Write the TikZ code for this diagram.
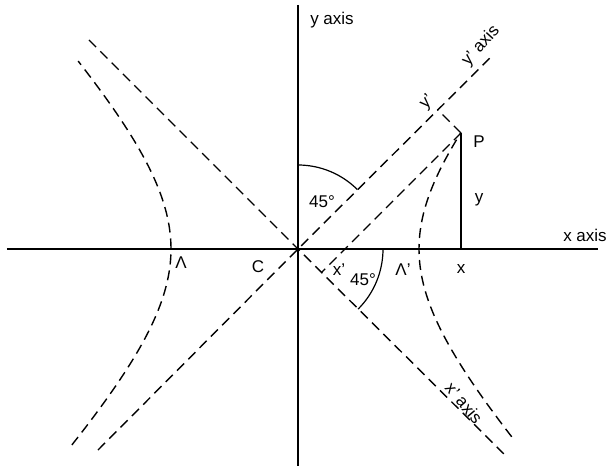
\documentclass[tikz,border=0pt]{standalone}
\usepackage{fontspec}
\setmainfont{Liberation Sans}
\begin{document}
\begin{tikzpicture}[x=1pt,y=1pt,
  axisline/.style={line width=1.5pt},
  dashline/.style={line width=1.4pt, dash pattern=on 10pt off 6pt},
  lbl/.style={font=\fontsize{17}{19}\selectfont, inner sep=0pt},
  arcline/.style={line width=1.2pt}]
\useasboundingbox (-298,-217) rectangle (314,249);
\coordinate (C) at (0,0);
\coordinate (xl) at (-291,0);
\coordinate (xr) at (300,0);
\coordinate (yt) at (0,244);
\coordinate (yb) at (0,-217);
\coordinate (UL) at (-209,209);
\coordinate (LR) at (207,-206);
\coordinate (LL) at (-200,-201);
\coordinate (UR) at (195,194);
\coordinate (P) at (163,116);
\coordinate (Px) at (163,0);
\coordinate (Fy) at (139.5,139.5);
\coordinate (Fx) at (23.5,-23.5);
% axes
\draw[axisline] (xl) -- (xr);
\draw[axisline] (yt) -- (yb);
% asymptotes / rotated axes
\draw[dashline] (UL) -- (C) -- (LR);
\draw[dashline] (LL) -- (C) -- (UR);
% hyperbola branches
\draw[dashline] plot[domain=-1.17:0.807, samples=60, smooth] ({121*(exp(\x)+exp(-\x))/2},{129*(exp(\x)-exp(-\x))/2});
\draw[dashline] plot[domain=-1.18:1.146, samples=60, smooth] ({-127*(exp(\x)+exp(-\x))/2},{133*(exp(\x)-exp(-\x))/2});
% P constructions
\draw[axisline] (P) -- (Px);
\draw[dashline] (P) -- (Fy);
\draw[dashline] (P) -- (Fx);
% angle arcs
\draw[arcline] (0,84) arc[start angle=90, end angle=45, radius=84];
\draw[arcline] (85,0) arc[start angle=0, end angle=-45, radius=85];
% labels
\node[lbl] (ly) at (34,229) {y axis};
\node[lbl] (lx) at (287,14) {x axis};
\node[lbl] (lP) at (181,107) {P};
\node[lbl] (lyy) at (181,49) {y};
\node[lbl] (lxx) at (163,-20) {x};
\node[lbl] (lC) at (-40,-18) {C};
\node[lbl] (lA) at (-117,-14) {Λ};
\node[lbl] (lA2) at (105,-21) {Λ’};
\node[lbl] (lx2) at (41,-21) {x’};
\node[lbl] (a1) at (24,47) {45°};
\node[lbl] (a2) at (65,-31) {45°};
\node[lbl, rotate=45] (ly2) at (129,147) {y’};
\node[lbl, rotate=48] (lyax) at (183,203) {y’ axis};
\node[lbl, rotate=-50] (lxax) at (166,-154) {x’ axis};
\end{tikzpicture}
\end{document}
